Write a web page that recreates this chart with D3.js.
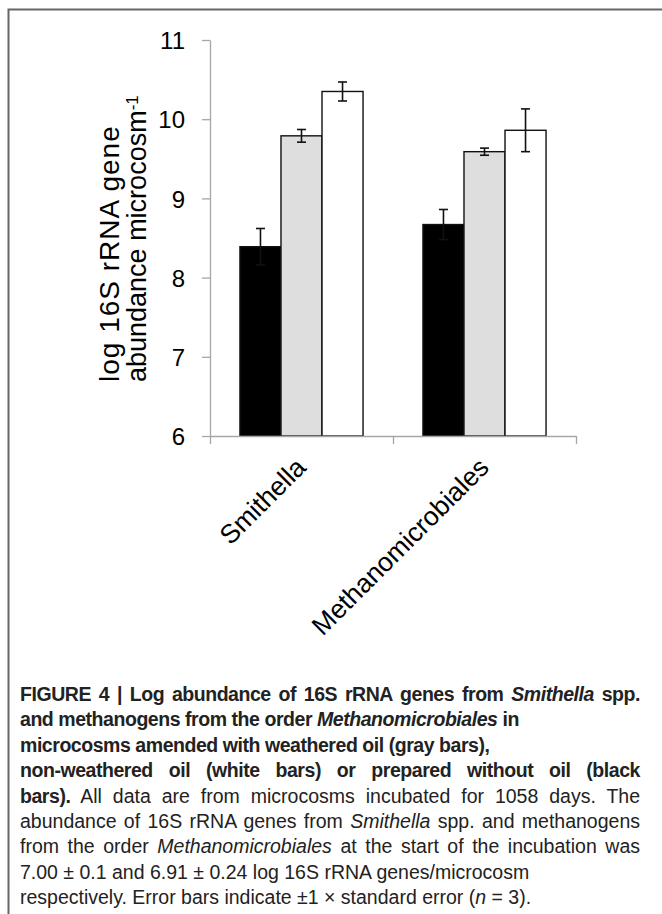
<!DOCTYPE html>
<html>
<head>
<meta charset="utf-8">
<script src="https://cdn.jsdelivr.net/npm/d3@7"></script>
<style>
  body { margin: 0; background: #fff; }
  svg { display: block; }
</style>
</head>
<body>
<div id="container"></div>
<script>
//chart values
var categories = ["Smithella", "Methanomicrobiales"];
var series = ["No oil", "Weathered oil", "Non-weathered oil"];
var seriesColors = ["#000000", "#dedede", "#ffffff"];
var noOil = [8.39, 8.67];
var weatheredOil = [9.79, 9.59];
var nonWeatheredOil = [10.35, 9.86];
var noOilErr = [0.23, 0.19];
var weatheredOilErr = [0.08, 0.045];
var nonWeatheredOilErr = [0.12, 0.27];
var yTicks = [6, 7, 8, 9, 10, 11];

//page + plot box
var width = 662;
var height = 914;
var plot = {left: 210, right: 576, top: 40, bottom: 436};
var axisColor = "#a6a6a6";

var svg = d3.select("#container")
    .append("svg")
    .attr("width", width)
    .attr("height", height)
    .style("font-family", "'Liberation Sans', Arial, sans-serif");

//frame line on top + left of the figure panel
svg.append("path")
    .attr("d", "M8.5," + height + "V9.5H" + width)
    .attr("fill", "none")
    .attr("stroke", "#666")
    .attr("stroke-width", 2);

//scales
var x = d3.scaleBand().domain(categories).range([plot.left, plot.right]).padding(0);
var xSub = d3.scaleBand().domain(series).range([0, x.bandwidth()]).paddingInner(0).paddingOuter(0.73);
var xEdge = d3.scaleLinear().domain([0, categories.length]).range([plot.left, plot.right]);
var y = d3.scaleLinear().domain([6, 11]).range([plot.bottom, plot.top]);
var color = d3.scaleOrdinal().domain(series).range(seriesColors);

//long format table built from the arrays
var values = [noOil, weatheredOil, nonWeatheredOil];
var errors = [noOilErr, weatheredOilErr, nonWeatheredOilErr];
var table = [];
categories.forEach(function(cat, i) {
    series.forEach(function(s, j) {
        table.push({category: cat, series: s, value: values[j][i], err: errors[j][i]});
    });
});

//bars
svg.append("g")
    .selectAll("rect")
    .data(table)
    .enter().append("rect")
    .attr("x", function(d) { return x(d.category) + xSub(d.series); })
    .attr("y", function(d) { return y(d.value); })
    .attr("width", xSub.bandwidth())
    .attr("height", function(d) { return y(6) - y(d.value); })
    .attr("fill", function(d) { return color(d.series); })
    .attr("stroke", "#111")
    .attr("stroke-width", 1.4);

//error bars
var capHalf = 4.5;
var eb = svg.append("g")
    .selectAll("g")
    .data(table)
    .enter().append("g")
    .attr("transform", function(d) { return "translate(" + (x(d.category) + xSub(d.series) + xSub.bandwidth() / 2) + ",0)"; })
    .attr("stroke", "#111")
    .attr("stroke-width", 1.6)
    .attr("fill", "none");
eb.append("line")
    .attr("y1", function(d) { return y(d.value - d.err); })
    .attr("y2", function(d) { return y(d.value + d.err); });
eb.append("line")
    .attr("x1", -capHalf).attr("x2", capHalf)
    .attr("y1", function(d) { return y(d.value + d.err); })
    .attr("y2", function(d) { return y(d.value + d.err); });
eb.append("line")
    .attr("x1", -capHalf).attr("x2", capHalf)
    .attr("y1", function(d) { return y(d.value - d.err); })
    .attr("y2", function(d) { return y(d.value - d.err); });

//y axis
var yAxis = svg.append("g")
    .attr("transform", "translate(" + plot.left + ",0)")
    .call(d3.axisLeft(y).tickValues(yTicks).tickFormat(d3.format("d")).tickSize(8).tickSizeOuter(0).tickPadding(17));
yAxis.selectAll("text")
    .style("font-size", "24px")
    .attr("fill", "#000")
    .attr("dy", "0.36em");

//x axis: ticks on the category boundaries
var xAxis = svg.append("g")
    .attr("transform", "translate(0," + plot.bottom + ")")
    .call(d3.axisBottom(xEdge).ticks(categories.length).tickSize(8).tickSizeOuter(0).tickFormat(""));

svg.selectAll(".domain, .tick line")
    .attr("stroke", axisColor)
    .attr("stroke-width", 1.3);
yAxis.raise();

//category labels, rotated
svg.append("g")
    .selectAll("text")
    .data(categories)
    .enter().append("text")
    .attr("transform", function(d) { return "translate(" + (x(d) + x.bandwidth() / 2 + 6) + "," + (plot.bottom + 33) + ") rotate(-45)"; })
    .attr("text-anchor", "end")
    .style("font-size", "26.5px")
    .text(function(d) { return d; });

//y axis title (two lines)
var yTitle = svg.append("g");
yTitle.append("text")
    .attr("transform", "translate(119,382) rotate(-90)")
    .style("font-size", "28px")
    .style("letter-spacing", "1px")
    .text("log 16S rRNA gene");
var t2 = yTitle.append("text")
    .attr("transform", "translate(146,382) rotate(-90)")
    .style("font-size", "27px")
    .text("abundance microcosm");
t2.append("tspan")
    .attr("dy", "-0.5em")
    .style("font-size", "17px")
    .text("-1");

//figure caption
var captionLines = [
    {justify: true,  parts: [["FIGURE 4 | Log abundance of 16S rRNA genes from ", "b"], ["Smithella", "bi"], [" spp.", "b"]]},
    {justify: false, parts: [["and methanogens from the order ", "b"], ["Methanomicrobiales", "bi"], [" in", "b"]]},
    {justify: false, parts: [["microcosms amended with weathered oil (gray bars),", "b"]]},
    {justify: true,  parts: [["non-weathered oil (white bars) or prepared without oil (black", "b"]]},
    {justify: true,  parts: [["bars).", "b"], [" All data are from microcosms incubated for 1058 days. The", ""]]},
    {justify: true,  parts: [["abundance of 16S rRNA genes from ", ""], ["Smithella", "i"], [" spp. and methanogens", ""]]},
    {justify: true,  parts: [["from the order ", ""], ["Methanomicrobiales", "i"], [" at the start of the incubation was", ""]]},
    {justify: false, parts: [["7.00 \u00b1 0.1 and 6.91 \u00b1 0.24 log 16S rRNA genes/microcosm", ""]]},
    {justify: false, parts: [["respectively. Error bars indicate \u00b11 \u00d7 standard error (", ""], ["n", "i"], [" = 3).", ""]]}
];
var capLeft = 20, capRight = 640, capTop = 701, capStep = 25.4;

var caption = svg.append("g")
    .style("font-size", "19.5px")
    .attr("fill", "#222");

captionLines.forEach(function(line, i) {
    var t = caption.append("text")
        .attr("x", capLeft)
        .attr("y", capTop + i * capStep)
        .attr("xml:space", "preserve");
    line.parts.forEach(function(p) {
        var ts = t.append("tspan")
            .style("font-weight", p[1].indexOf("b") >= 0 ? "bold" : "normal")
            .style("font-style", p[1].indexOf("i") >= 0 ? "italic" : "normal")
            .text(p[0]);
        if (p[1].indexOf("b") >= 0) ts.style("letter-spacing", "-0.45px");
    });
    if (line.justify) {
        var natural = t.node().getComputedTextLength();
        var spaces = line.parts.map(function(p) { return p[0]; }).join("").split(" ").length - 1;
        t.style("word-spacing", ((capRight - capLeft - natural) / spaces) + "px");
    }
});
</script>
</body>
</html>
